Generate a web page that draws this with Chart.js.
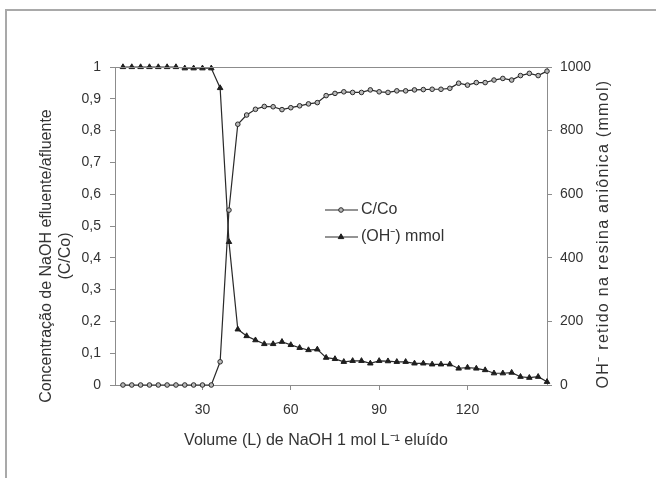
<!DOCTYPE html>
<html><head><meta charset="utf-8">
<script src="https://cdn.jsdelivr.net/npm/chart.js@4/dist/chart.umd.min.js"></script>
<style>
html,body{margin:0;padding:0;background:#fff;}
#wrap{position:relative;width:656px;height:478px;overflow:hidden;background:#fff;}
#frame{position:absolute;left:5px;top:9px;width:700px;height:600px;border-top:2px solid #a9a9a9;border-left:2px solid #a9a9a9;}
canvas{position:absolute;left:0;top:0;}
</style></head><body>
<div id="wrap"><div id="frame"></div><canvas id="c" width="656" height="478"></canvas></div>
<script>
// Volume (L) of NaOH eluted
const volume = [3,6,9,12,15,18,21,24,27,30,33,36,39,42,45,48,51,54,57,60,63,66,69,72,75,78,81,84,87,90,93,96,99,102,105,108,111,114,117,120,123,126,129,132,135,138,141,144,147];
// C/Co (left axis)
const cco = [0,0,0,0,0,0,0,0,0,0,0,0.073,0.55,0.82,0.849,0.867,0.876,0.875,0.866,0.872,0.878,0.884,0.888,0.91,0.917,0.922,0.92,0.92,0.928,0.922,0.92,0.925,0.925,0.928,0.929,0.93,0.93,0.933,0.949,0.943,0.951,0.951,0.959,0.964,0.959,0.973,0.98,0.973,0.987];
// (OH-) mmol retained (right axis)
const ohmmol = [1000,1000,1000,1000,1000,1000,1000,996,996,996,996,934,450,175,154,141,129,129,136,126,117,110,112,86,82,73,76,76,68,76,75,73,73,68,68,65,65,65,52,55,52,47,37,37,39,26,23,26,10];
const xTicks = [30,60,90,120];
const yLeftTicks = [0,0.1,0.2,0.3,0.4,0.5,0.6,0.7,0.8,0.9,1];
const yRightTicks = [0,200,400,600,800,1000];
const seriesNames = ['C/Co','(OH\u207B) mmol'];

const FONT = 'Liberation Sans, Arial, sans-serif';
const TXT = '#333';
const AX = '#8c8c8c';
const LINE = '#2a2a2a';

const fmtLeft = v => (v === 0 ? '0' : v === 1 ? '1' : v.toFixed(1).replace('.', ','));

const decor = {
  id: 'decor',
  afterDraw(chart) {
    const ctx = chart.ctx, a = chart.chartArea;
    ctx.save();
    // top border of plot
    ctx.strokeStyle = AX; ctx.lineWidth = 1;
    ctx.beginPath(); ctx.moveTo(a.left, a.top + 0.5); ctx.lineTo(a.right + 5, a.top + 0.5); ctx.stroke();

    ctx.fillStyle = TXT;
    ctx.font = '16px ' + FONT;
    ctx.textAlign = 'center'; ctx.textBaseline = 'middle';
    // x title
    ctx.fillText('Volume (L) de NaOH 1 mol L\u207B\u00B9 eluído', 316, 441);
    // left title
    ctx.save(); ctx.translate(47, 256); ctx.rotate(-Math.PI / 2);
    ctx.fillText('Concentração de NaOH efluente/afluente', 0, 0); ctx.restore();
    ctx.save(); ctx.translate(66, 256); ctx.rotate(-Math.PI / 2);
    ctx.fillText('(C/Co)', 0, 0); ctx.restore();
    // right title
    ctx.save(); ctx.translate(604, 234); ctx.rotate(-Math.PI / 2);
    if ('letterSpacing' in ctx) ctx.letterSpacing = '1.3px';
    ctx.fillText('OH\u207B retido na resina aniônica (mmol)', 0, 0); ctx.restore();

    // legend
    const ds = chart.data.datasets;
    const rows = [210, 237];
    ds.forEach((d, i) => {
      const y = rows[i];
      ctx.strokeStyle = LINE; ctx.lineWidth = 1.2;
      ctx.beginPath(); ctx.moveTo(325, y); ctx.lineTo(358, y); ctx.stroke();
      ctx.fillStyle = d.pointBackgroundColor; ctx.strokeStyle = d.pointBorderColor; ctx.lineWidth = 1;
      Chart.helpers.drawPoint(ctx, {pointStyle: d.pointStyle, radius: d.pointRadius, borderWidth: 1, rotation: 0}, 341, y);
      ctx.fillStyle = TXT; ctx.textAlign = 'left'; ctx.textBaseline = 'middle';
      ctx.font = '16px ' + FONT;
      ctx.fillText(d.label, 361, y);
    });
    ctx.restore();
  }
};

new Chart(document.getElementById('c'), {
  type: 'line',
  data: {
    datasets: [
      {
        label: seriesNames[0],
        data: volume.map((v, i) => ({x: v, y: cco[i]})),
        yAxisID: 'y',
        borderColor: LINE, borderWidth: 1.2,
        pointStyle: 'circle', pointRadius: 2.3,
        pointBackgroundColor: '#b8b8b8', pointBorderColor: LINE, pointBorderWidth: 1,
        tension: 0, clip: false
      },
      {
        label: seriesNames[1],
        data: volume.map((v, i) => ({x: v, y: ohmmol[i]})),
        yAxisID: 'y1',
        borderColor: LINE, borderWidth: 1.2,
        pointStyle: 'triangle', pointRadius: 3.2,
        pointBackgroundColor: '#1e1e1e', pointBorderColor: '#1e1e1e', pointBorderWidth: 1,
        tension: 0, clip: false
      }
    ]
  },
  options: {
    responsive: false, animation: false, devicePixelRatio: 1,
    layout: {padding: {top: 67, left: 0, right: 0, bottom: 0}, autoPadding: false},
    plugins: {legend: {display: false}, tooltip: {enabled: false}},
    scales: {
      x: {
        type: 'linear', position: 'bottom', min: 0.3, max: 147,
        border: {color: AX, width: 1},
        grid: {drawOnChartArea: false, drawTicks: true, tickLength: 5, color: AX},
        ticks: {font: {family: FONT, size: 14}, color: TXT, padding: 12, maxRotation: 0, callback: v => String(v)},
        afterBuildTicks: s => { s.ticks = xTicks.map(v => ({value: v})); },
        afterFit: s => { s.height = 93; }
      },
      y: {
        type: 'linear', position: 'left', min: 0, max: 1,
        border: {color: AX, width: 1},
        grid: {drawOnChartArea: false, drawTicks: true, tickLength: 5, color: AX},
        ticks: {font: {family: FONT, size: 14}, color: TXT, padding: 9, callback: v => fmtLeft(v)},
        afterBuildTicks: s => { s.ticks = yLeftTicks.map(v => ({value: v})); },
        afterFit: s => { s.width = 115; }
      },
      y1: {
        type: 'linear', position: 'right', min: 0, max: 1000,
        border: {color: AX, width: 1},
        grid: {drawOnChartArea: false, drawTicks: true, tickLength: 5, color: AX},
        ticks: {font: {family: FONT, size: 14}, color: TXT, padding: 8, callback: v => String(v)},
        afterBuildTicks: s => { s.ticks = yRightTicks.map(v => ({value: v})); },
        afterFit: s => { s.width = 109; }
      }
    }
  },
  plugins: [decor]
});
</script>
</body></html>
